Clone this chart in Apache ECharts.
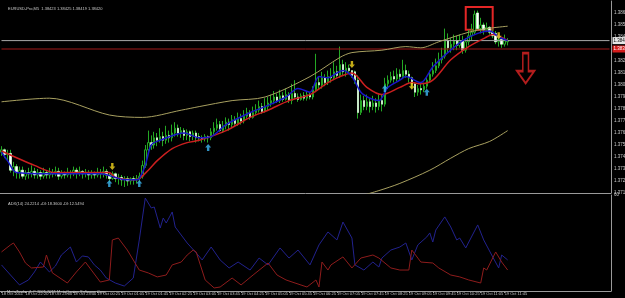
<!DOCTYPE html>
<html>
<head>
<meta charset="utf-8">
<script src="https://cdn.jsdelivr.net/npm/echarts@6/dist/echarts.min.js"></script>
<style>
  html, body { margin: 0; padding: 0; background: #000; }
  #chart { width: 625px; height: 298px; }
</style>
</head>
<body>
<div id="chart"></div>
<script>
// EURUSD M5, 18-19 Oct 2011
var barCount = 204; // bars visible incl. empty shift on the right
var timeLabels = ['18 Oct 2011', '18 Oct 22:20', '18 Oct 23:00', '18 Oct 23:40', '19 Oct 00:25',
  '19 Oct 01:05', '19 Oct 01:45', '19 Oct 02:25', '19 Oct 03:05', '19 Oct 03:45', '19 Oct 04:25',
  '19 Oct 05:05', '19 Oct 05:45', '19 Oct 06:25', '19 Oct 07:05', '19 Oct 07:45', '19 Oct 08:25',
  '19 Oct 09:05', '19 Oct 09:45', '19 Oct 10:25', '19 Oct 11:05', '19 Oct 11:45'];

// open, close, low, high
var candles = [
  [1.3749,1.3751,1.3746,1.3754],[1.3751,1.3747,1.3744,1.3752],[1.3747,1.3748,1.3742,1.3751],[1.3748,1.3734,1.3732,1.3751],
  [1.3734,1.3737,1.3729,1.3741],[1.3737,1.3732,1.3727,1.3739],[1.3732,1.3734,1.3727,1.3737],[1.3734,1.3729,1.3727,1.3737],
  [1.3729,1.3732,1.3726,1.3734],[1.3732,1.3731,1.3727,1.3736],[1.3731,1.3733,1.3728,1.3738],[1.3733,1.3730,1.3727,1.3736],
  [1.3730,1.3732,1.3727,1.3735],[1.3732,1.3729,1.3726,1.3734],[1.3729,1.3732,1.3727,1.3736],[1.3732,1.3730,1.3727,1.3734],
  [1.3730,1.3732,1.3727,1.3736],[1.3732,1.3731,1.3728,1.3735],[1.3731,1.3733,1.3729,1.3737],[1.3733,1.3729,1.3726,1.3736],
  [1.3729,1.3732,1.3727,1.3734],[1.3732,1.3730,1.3727,1.3733],[1.3730,1.3732,1.3728,1.3736],[1.3732,1.3731,1.3727,1.3734],
  [1.3731,1.3734,1.3729,1.3737],[1.3734,1.3732,1.3727,1.3736],[1.3732,1.3733,1.3729,1.3737],[1.3733,1.3731,1.3727,1.3734],
  [1.3731,1.3732,1.3728,1.3735],[1.3732,1.3730,1.3726,1.3734],[1.3730,1.3732,1.3727,1.3734],[1.3732,1.3730,1.3727,1.3733],
  [1.3730,1.3732,1.3728,1.3736],[1.3732,1.3731,1.3727,1.3735],[1.3731,1.3733,1.3728,1.3737],[1.3733,1.3730,1.3727,1.3735],
  [1.3730,1.3727,1.3724,1.3732],[1.3727,1.3731,1.3726,1.3733],[1.3731,1.3727,1.3724,1.3732],[1.3727,1.3728,1.3722,1.3731],
  [1.3728,1.3726,1.3721,1.3730],[1.3726,1.3727,1.3720,1.3729],[1.3727,1.3725,1.3721,1.3729],[1.3725,1.3727,1.3722,1.3728],
  [1.3727,1.3726,1.3722,1.3729],[1.3726,1.3727,1.3723,1.3730],[1.3727,1.3729,1.3724,1.3732],[1.3729,1.3738,1.3727,1.3742],
  [1.3738,1.3751,1.3736,1.3755],[1.3751,1.3757,1.3749,1.3767],[1.3757,1.3755,1.3751,1.3763],[1.3755,1.3761,1.3752,1.3766],
  [1.3761,1.3759,1.3754,1.3765],[1.3759,1.3762,1.3757,1.3769],[1.3762,1.3759,1.3754,1.3766],[1.3759,1.3763,1.3756,1.3771],
  [1.3763,1.3761,1.3757,1.3767],[1.3761,1.3765,1.3758,1.3772],[1.3765,1.3769,1.3762,1.3774],[1.3769,1.3765,1.3762,1.3772],
  [1.3765,1.3767,1.3761,1.3770],[1.3767,1.3763,1.3759,1.3769],[1.3763,1.3766,1.3759,1.3768],[1.3766,1.3762,1.3758,1.3767],
  [1.3762,1.3765,1.3759,1.3767],[1.3765,1.3761,1.3757,1.3767],[1.3762,1.3761,1.3758,1.3765],[1.3761,1.3760,1.3757,1.3763],
  [1.3760,1.3762,1.3758,1.3764],[1.3762,1.3761,1.3757,1.3763],[1.3761,1.3766,1.3759,1.3769],[1.3766,1.3769,1.3763,1.3774],
  [1.3769,1.3772,1.3767,1.3777],[1.3772,1.3767,1.3766,1.3775],[1.3767,1.3771,1.3765,1.3775],[1.3771,1.3774,1.3768,1.3778],
  [1.3774,1.3772,1.3767,1.3777],[1.3772,1.3776,1.3769,1.3780],[1.3776,1.3773,1.3770,1.3779],[1.3773,1.3777,1.3771,1.3782],
  [1.3777,1.3775,1.3772,1.3781],[1.3775,1.3779,1.3773,1.3784],[1.3779,1.3782,1.3777,1.3786],[1.3782,1.3778,1.3776,1.3784],
  [1.3778,1.3782,1.3777,1.3787],[1.3782,1.3784,1.3780,1.3789],[1.3784,1.3787,1.3782,1.3792],[1.3787,1.3783,1.3781,1.3790],
  [1.3783,1.3787,1.3782,1.3794],[1.3787,1.3790,1.3784,1.3795],[1.3790,1.3792,1.3787,1.3797],[1.3792,1.3795,1.3789,1.3800],
  [1.3795,1.3792,1.3790,1.3798],[1.3792,1.3796,1.3790,1.3801],[1.3796,1.3793,1.3791,1.3799],[1.3793,1.3797,1.3792,1.3802],
  [1.3797,1.3792,1.3790,1.3799],[1.3792,1.3798,1.3789,1.3806],[1.3798,1.3795,1.3793,1.3809],[1.3795,1.3793,1.3791,1.3798],
  [1.3793,1.3796,1.3792,1.3798],[1.3796,1.3794,1.3792,1.3799],[1.3794,1.3797,1.3792,1.3800],[1.3797,1.3795,1.3793,1.3799],
  [1.3795,1.3801,1.3793,1.3804],[1.3801,1.3807,1.3799,1.3831],[1.3807,1.3805,1.3801,1.3812],[1.3805,1.3811,1.3802,1.3816],
  [1.3811,1.3807,1.3804,1.3814],[1.3807,1.3812,1.3805,1.3817],[1.3812,1.3811,1.3807,1.3819],[1.3811,1.3816,1.3809,1.3824],
  [1.3816,1.3813,1.3811,1.3821],[1.3813,1.3822,1.3811,1.3837],[1.3822,1.3816,1.3813,1.3826],[1.3816,1.3819,1.3812,1.3824],
  [1.3819,1.3817,1.3814,1.3822],[1.3817,1.3813,1.3811,1.3817],[1.3816,1.3809,1.3806,1.3817],[1.3809,1.3782,1.3777,1.3813],
  [1.3782,1.3792,1.3780,1.3797],[1.3792,1.3787,1.3784,1.3796],[1.3787,1.3791,1.3784,1.3797],[1.3791,1.3787,1.3782,1.3794],
  [1.3787,1.3790,1.3784,1.3796],[1.3790,1.3787,1.3782,1.3794],[1.3787,1.3792,1.3784,1.3797],[1.3792,1.3789,1.3783,1.3797],
  [1.3789,1.3806,1.3787,1.3811],[1.3806,1.3809,1.3802,1.3813],[1.3809,1.3812,1.3807,1.3816],[1.3812,1.3810,1.3807,1.3817],
  [1.3810,1.3814,1.3808,1.3819],[1.3814,1.3812,1.3809,1.3818],[1.3812,1.3817,1.3810,1.3826],[1.3817,1.3814,1.3811,1.3822],
  [1.3814,1.3811,1.3807,1.3817],[1.3811,1.3806,1.3802,1.3812],[1.3806,1.3799,1.3795,1.3807],[1.3799,1.3802,1.3796,1.3805],
  [1.3802,1.3801,1.3797,1.3806],[1.3801,1.3804,1.3799,1.3807],[1.3804,1.3809,1.3802,1.3812],[1.3809,1.3814,1.3807,1.3817],
  [1.3814,1.3817,1.3812,1.3824],[1.3817,1.3821,1.3815,1.3827],[1.3821,1.3826,1.3819,1.3832],[1.3826,1.3829,1.3823,1.3836],
  [1.3829,1.3842,1.3827,1.3852],[1.3842,1.3836,1.3832,1.3848],[1.3836,1.3839,1.3832,1.3844],[1.3839,1.3842,1.3834,1.3847],
  [1.3842,1.3838,1.3834,1.3846],[1.3838,1.3842,1.3836,1.3847],[1.3842,1.3834,1.3831,1.3846],[1.3834,1.3841,1.3832,1.3844],
  [1.3841,1.3846,1.3838,1.3851],[1.3846,1.3849,1.3842,1.3856],[1.3849,1.3864,1.3847,1.3867],[1.3865,1.3852,1.3851,1.3867],
  [1.3852,1.3855,1.3848,1.3861],[1.3855,1.3851,1.3847,1.3857],[1.3851,1.3853,1.3849,1.3857],[1.3853,1.3849,1.3847,1.3854],
  [1.3849,1.3846,1.3844,1.3852],[1.3848,1.3841,1.3839,1.3850],[1.3841,1.3843,1.3837,1.3847],[1.3843,1.3839,1.3836,1.3845],
  [1.3839,1.3842,1.3837,1.3847],[1.3841,1.3842,1.3838,1.3844]
];

// indicator lines as [bar, value] turning points
var fastMa = [[0,1.3749],[2,1.3742],[5,1.3732],[16,1.3731],[33,1.3731],[38,1.3728],[41,1.3726],[45,1.3726],
  [46,1.3727],[48,1.3738],[50,1.3755],[53,1.3759],[61,1.3765],[66,1.3761],[70,1.3762],[75,1.3772],[83,1.3782],
  [89,1.3788],[95,1.3795],[99,1.3802],[103,1.3799],[106,1.3812],[109,1.3811],[112,1.3815],[114,1.3817],
  [117,1.3812],[120,1.3799],[123,1.3794],[126,1.3792],[129,1.3803],[133,1.3809],[135,1.3812],[140,1.3807],
  [144,1.3820],[149,1.3832],[154,1.3842],[159,1.3848],[163,1.3850],[166,1.3845],[169,1.3842]];
var slowMa = [[0,1.3750],[11,1.3738],[18,1.3732],[36,1.3732],[38,1.3728],[44,1.3726],[46,1.3727],[49,1.3734],
  [52,1.3742],[57,1.3752],[62,1.3757],[66,1.3759],[75,1.3767],[83,1.3778],[89,1.3784],[96,1.3792],[103,1.3797],
  [109,1.3807],[113,1.3812],[117,1.3815],[122,1.3803],[127,1.3797],[133,1.3803],[137,1.3807],[140,1.3806],
  [144,1.3809],[150,1.3826],[156,1.3837],[162,1.3845],[164,1.3847],[169,1.3842]];
var bandUp = [[0,1.3791],[16,1.3794],[36,1.3780],[47,1.3778],[60,1.3784],[66,1.3787],[77,1.3792],[88,1.3795],
  [103,1.3812],[113,1.3828],[117,1.3832],[127,1.3834],[135,1.3837],[140,1.3836],[146,1.3841],[156,1.3849],
  [162,1.3852],[169,1.3854]];
var bandDown = [[115,1.3709],[126,1.3717],[133,1.3723],[143,1.3734],[150,1.3744],[156,1.3752],[163,1.3758],[169,1.3767]];

var sellArrows = [[37,1.3737],[117,1.3822],[137,1.3804],[166,1.3846]];
var buyArrows = [[36,1.3723],[46,1.3723],[69,1.3753],[128,1.3802],[142,1.3799]];
var bigArrow = [[175,1.3819]];
var boxFrom = [155, 1.3870];
var boxTo = [164, 1.3851];

var bidPrice = 1.3842;
var orderPrice = 1.3835;

var plusDi = [[0,16.3],[3,10.0],[6,3.8],[9,6.9],[11,11.9],[13,18.1],[16,11.9],[18,15.6],[20,22.5],[23,27.5],
  [25,18.1],[27,21.9],[29,21.3],[31,16.3],[33,13.1],[35,8.1],[38,5.0],[41,3.1],[44,8.1],[46,31.9],[48,58.1],
  [50,51.9],[51,52.5],[53,39.4],[54,45.6],[55,42.5],[57,49.4],[58,40.0],[62,30.0],[65,23.8],[67,19.4],[70,27.5],
  [73,19.4],[76,14.4],[79,18.1],[83,13.1],[86,20.6],[89,16.3],[93,26.9],[96,20.6],[99,25.6],[103,16.3],[106,28.8],
  [109,36.9],[112,31.9],[114,43.1],[117,33.1],[118,16.3],[121,13.1],[124,18.1],[126,15.0],[127,20.6],[130,25.6],
  [133,27.5],[135,30.0],[137,19.4],[139,28.8],[142,33.8],[143,36.3],[144,30.6],[145,38.1],[148,46.3],[150,40.0],
  [152,31.9],[153,33.1],[155,26.9],[159,41.3],[161,31.9],[164,21.3],[166,14.4],[167,22.5],[169,19.4]];
var minusDi = [[0,24.4],[3,28.8],[4,30.0],[6,24.4],[8,17.5],[10,14.4],[14,15.0],[15,22.5],[17,11.3],[22,5.0],
  [25,11.9],[28,18.1],[30,13.1],[33,5.6],[36,6.9],[37,31.9],[39,33.1],[42,25.6],[43,22.5],[46,13.1],[49,11.3],
  [52,8.8],[55,10.0],[57,16.3],[60,18.1],[62,22.5],[64,25.6],[65,24.4],[68,6.9],[71,1.9],[73,2.5],[77,8.1],
  [80,3.8],[84,10.0],[89,17.5],[92,10.0],[95,6.9],[98,5.0],[102,2.5],[105,6.9],[106,2.5],[107,18.1],[109,13.1],
  [110,16.3],[114,21.3],[117,14.4],[120,20.6],[124,22.5],[126,20.6],[130,14.4],[133,13.1],[136,13.1],[137,25.6],
  [139,20.6],[140,18.1],[144,17.5],[146,14.4],[150,10.0],[153,8.8],[156,6.9],[160,5.0],[161,14.4],[162,13.1],
  [165,24.4],[167,18.1],[169,13.1]];

var chart = echarts.init(document.getElementById('chart'));

var cats = [];
for (var i = 0; i < barCount; i++) cats.push(String(i));
// white bodies for falling bars, drawn over the green bars
var bearBodies = candles.map(function (c) {
  return c[1] < c[0] ? [c[0], c[1], c[1], c[0]] : ['-', '-', '-', '-'];
});

var txt = '#c8c8c8';
var font = 'Liberation Sans';
var upArrow = 'path://M5,0 L10,5 L7,5 L7,10 L3,10 L3,5 L0,5 Z';
var downArrow = 'path://M3,0 L7,0 L7,5 L10,5 L5,10 L0,5 L3,5 Z';

// full-width horizontal price line with its box on the price scale
function priceLine(name, price, color, boxColor, textColor) {
  return {
    name: name, type: 'line', xAxisIndex: 0, yAxisIndex: 0, z: 4, silent: true,
    data: [[0, price], [barCount - 1, price]], showSymbol: false,
    lineStyle: { color: color, width: 1 },
    endLabel: { show: true, distance: 3, formatter: price.toFixed(5), fontSize: 4.5, fontFamily: font,
      color: textColor, backgroundColor: boxColor, padding: [1, 1] }
  };
}

var option = {
  backgroundColor: '#000',
  animation: false,
  textStyle: { fontFamily: font },
  title: [
    { text: 'EURUSD-Pro,M5  1.38423 1.38425 1.38419 1.38420', left: 3, top: 2,
      textStyle: { fontSize: 4, color: txt, fontWeight: 'normal', fontFamily: font } },
    { text: 'ADX(14) 24.2214 +DI:18.3600 -DI:12.5494', left: 3, top: 197,
      textStyle: { fontSize: 4, color: txt, fontWeight: 'normal', fontFamily: font } },
    { text: 'MetaTrader 4, \u00a9 2001-2011 MetaQuotes Software Corp.', left: 2, top: 285,
      textStyle: { fontSize: 4, color: txt, fontWeight: 'normal', fontFamily: font } }
  ],
  grid: [
    { left: 0, right: 14, top: 1, height: 192, containLabel: false, outerBoundsMode: 'none' },
    { left: 0, right: 14, top: 195, height: 96, containLabel: false, outerBoundsMode: 'none' }
  ],
  xAxis: [
    { type: 'category', gridIndex: 0, data: cats, boundaryGap: true,
      axisLine: { show: true, lineStyle: { color: '#9a9a9a' } },
      axisTick: { show: false }, axisLabel: { show: false }, splitLine: { show: false } },
    { type: 'category', gridIndex: 1, data: cats, boundaryGap: true,
      axisLine: { show: true, lineStyle: { color: '#9a9a9a' } },
      axisTick: { show: true, alignWithLabel: true, length: 2, lineStyle: { color: '#9a9a9a' },
        interval: function (idx) { return idx % 8 === 0 && idx / 8 < timeLabels.length; } },
      axisLabel: { fontSize: 4, color: txt, margin: 1, align: 'left',
        interval: function (idx) { return idx % 8 === 0 && idx / 8 < timeLabels.length; },
        formatter: function (v, idx) { return timeLabels[idx / 8] || ''; } },
      splitLine: { show: false } }
  ],
  yAxis: [
    { type: 'value', gridIndex: 0, position: 'right', min: 1.3715, max: 1.3875, interval: 0.0005,
      axisLine: { show: true, lineStyle: { color: '#9a9a9a' } },
      axisTick: { show: false }, splitLine: { show: false },
      axisLabel: { fontSize: 4.5, color: txt, margin: 3, showMaxLabel: false,
        formatter: function (v, idx) { return idx % 2 === 0 ? v.toFixed(5) : ''; } } },
    { type: 'value', gridIndex: 1, position: 'right', min: 0, max: 60, interval: 60,
      axisLine: { show: true, lineStyle: { color: '#9a9a9a' } },
      axisTick: { show: false }, splitLine: { show: false },
      axisLabel: { fontSize: 4.5, color: txt, margin: 3,
        formatter: function (v, idx) { return idx === 1 ? '60' : ''; } } }
  ],
  series: [
    {
      name: 'bars', type: 'candlestick', xAxisIndex: 0, yAxisIndex: 0, data: candles,
      barWidth: 2, z: 2,
      itemStyle: { color: '#000', color0: '#000', borderColor: '#24a824', borderColor0: '#24a824', borderWidth: 1 },
      markArea: {
        silent: true,
        itemStyle: { color: 'rgba(0,0,0,0)', borderColor: '#e42626', borderWidth: 2 },
        data: [[{ xAxis: boxFrom[0], yAxis: boxFrom[1] }, { xAxis: boxTo[0], yAxis: boxTo[1] }]]
      }
    },
    {
      name: 'bodies', type: 'candlestick', xAxisIndex: 0, yAxisIndex: 0, data: bearBodies,
      barWidth: 2, z: 3,
      itemStyle: { color: '#fff', color0: '#fff', borderColor: '#fff', borderColor0: '#fff', borderWidth: 0.5 }
    },
    priceLine('bid', bidPrice, '#a8a8a8', '#e6e6e6', '#000'),
    priceLine('order', orderPrice, '#a01818', '#d41c1c', '#fff'),
    { name: 'band up', type: 'line', xAxisIndex: 0, yAxisIndex: 0, data: bandUp, showSymbol: false,
      smooth: 0.3, z: 4, lineStyle: { color: '#a8a060', width: 1 } },
    { name: 'band down', type: 'line', xAxisIndex: 0, yAxisIndex: 0, data: bandDown, showSymbol: false,
      smooth: 0.3, z: 4, lineStyle: { color: '#a8a060', width: 1 } },
    { name: 'slow ma', type: 'line', xAxisIndex: 0, yAxisIndex: 0, data: slowMa, showSymbol: false,
      smooth: 0.3, z: 5, lineStyle: { color: '#cc1f1f', width: 1.5 } },
    { name: 'fast ma', type: 'line', xAxisIndex: 0, yAxisIndex: 0, data: fastMa, showSymbol: false,
      smooth: 0.3, z: 5, lineStyle: { color: '#1818c8', width: 1.5 } },
    { name: 'sell', type: 'scatter', xAxisIndex: 0, yAxisIndex: 0, data: sellArrows,
      symbol: downArrow, symbolSize: [6, 7], z: 6, itemStyle: { color: '#f2d41c' } },
    { name: 'buy', type: 'scatter', xAxisIndex: 0, yAxisIndex: 0, data: buyArrows,
      symbol: upArrow, symbolSize: [6, 7], z: 6, itemStyle: { color: '#3cb8f4' } },
    { name: 'down mark', type: 'scatter', xAxisIndex: 0, yAxisIndex: 0, data: bigArrow,
      symbol: 'path://M6,0 L12,0 L12,18 L18,18 L9,30 L0,18 L6,18 Z', symbolSize: [17, 30], z: 6,
      itemStyle: { color: 'rgba(0,0,0,0)', borderColor: '#e02424', borderWidth: 2 } },
    { name: '+DI', type: 'line', xAxisIndex: 1, yAxisIndex: 1, data: plusDi, showSymbol: false,
      lineStyle: { color: '#22228e', width: 1 } },
    { name: '-DI', type: 'line', xAxisIndex: 1, yAxisIndex: 1, data: minusDi, showSymbol: false,
      lineStyle: { color: '#8e1c1c', width: 1 } }
  ]
};

chart.setOption(option);
</script>
</body>
</html>
